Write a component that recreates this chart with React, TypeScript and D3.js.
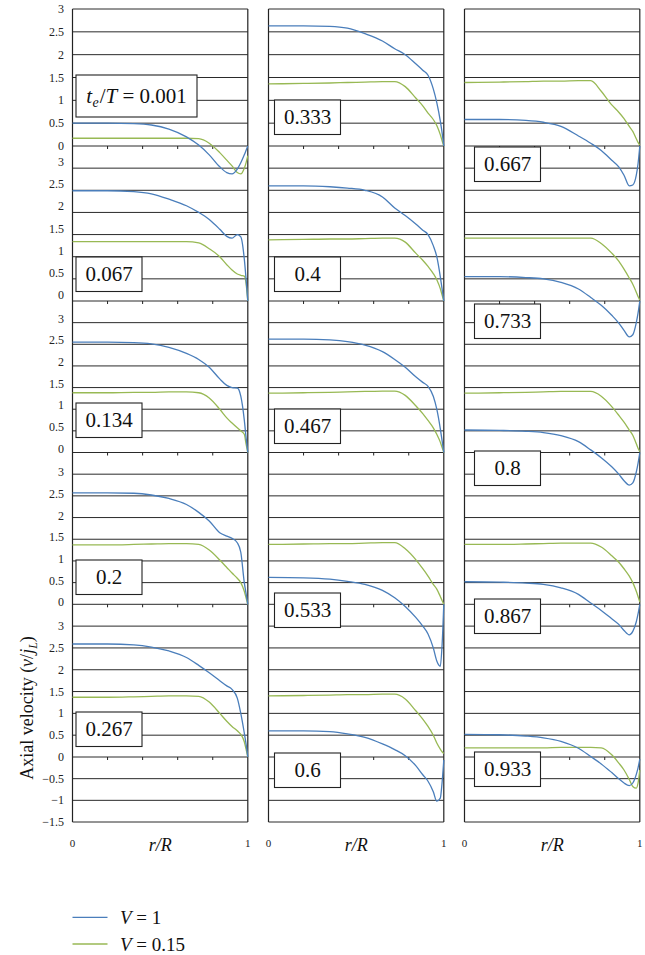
import React from 'react';
import * as d3 from 'd3';

// radial positions r/R shared by every curve
const R = [0, 0.2, 0.35, 0.45, 0.55, 0.65, 0.72, 0.78, 0.84, 0.88, 0.91, 0.94, 0.96, 0.98, 0.99, 1];

const panelLabels = ['0.001', '0.067', '0.134', '0.2', '0.267', '0.333', '0.4', '0.467', '0.533', '0.6', '0.667', '0.733', '0.8', '0.867', '0.933'];

// V = 1 (blue)
const blueV1 = [
  [0.5, 0.5, 0.49, 0.46, 0.37, 0.2, 0.02, -0.2, -0.47, -0.6, -0.63, -0.52, -0.38, -0.2, -0.1, 0],
  [2.49, 2.49, 2.47, 2.42, 2.3, 2.15, 2.0, 1.84, 1.62, 1.46, 1.42, 1.5, 1.45, 0.95, 0.5, 0],
  [2.55, 2.55, 2.54, 2.51, 2.43, 2.29, 2.15, 1.97, 1.7, 1.55, 1.5, 1.49, 1.3, 0.75, 0.35, 0],
  [2.57, 2.57, 2.56, 2.52, 2.44, 2.3, 2.12, 1.92, 1.65, 1.57, 1.52, 1.42, 1.2, 0.5, 0.25, 0],
  [2.59, 2.59, 2.57, 2.52, 2.43, 2.28, 2.1, 1.93, 1.75, 1.63, 1.55, 1.35, 1.0, 0.55, 0.3, 0],
  [2.63, 2.63, 2.62, 2.58, 2.46, 2.3, 2.13, 2.0, 1.8, 1.66, 1.55, 1.25, 0.95, 0.55, 0.3, 0],
  [2.6, 2.6, 2.58, 2.55, 2.5, 2.35, 2.1, 1.93, 1.74, 1.6, 1.5, 1.25, 1.0, 0.55, 0.28, 0],
  [2.62, 2.62, 2.6, 2.56, 2.48, 2.33, 2.15, 1.97, 1.75, 1.62, 1.53, 1.3, 1.0, 0.55, 0.28, 0],
  [0.62, 0.61, 0.58, 0.53, 0.46, 0.32, 0.15, -0.05, -0.3, -0.5, -0.68, -1.0, -1.3, -1.42, -0.95, 0],
  [0.6, 0.6, 0.58, 0.53, 0.45, 0.3, 0.17, 0.03, -0.2, -0.41, -0.56, -0.8, -1.02, -0.95, -0.6, -0.07],
  [0.58, 0.58, 0.56, 0.52, 0.43, 0.22, 0.06, -0.1, -0.32, -0.47, -0.66, -0.9, -0.88, -0.66, -0.4, 0],
  [0.55, 0.55, 0.53, 0.5, 0.42, 0.27, 0.08, -0.1, -0.33, -0.51, -0.68, -0.83, -0.78, -0.5, -0.28, 0],
  [0.52, 0.51, 0.49, 0.46, 0.39, 0.25, 0.06, -0.12, -0.33, -0.5, -0.65, -0.75, -0.7, -0.45, -0.25, 0],
  [0.52, 0.51, 0.49, 0.46, 0.38, 0.23, 0.03, -0.14, -0.33, -0.46, -0.6, -0.7, -0.62, -0.4, -0.22, 0],
  [0.52, 0.51, 0.48, 0.44, 0.36, 0.2, 0.01, -0.16, -0.36, -0.5, -0.6, -0.66, -0.6, -0.4, -0.25, -0.05],
];

// V = 0.15 (green)
const greenV015 = [
  [0.17, 0.17, 0.17, 0.17, 0.17, 0.17, 0.16, 0.06, -0.15, -0.32, -0.45, -0.6, -0.63, -0.5, -0.38, -0.22],
  [1.34, 1.34, 1.34, 1.34, 1.34, 1.34, 1.31, 1.18, 1.0, 0.82, 0.7, 0.61, 0.58, 0.56, 0.4, 0],
  [1.38, 1.38, 1.39, 1.39, 1.4, 1.4, 1.38, 1.26, 1.0, 0.8, 0.68, 0.57, 0.5, 0.42, 0.2, 0],
  [1.37, 1.37, 1.38, 1.39, 1.4, 1.4, 1.38, 1.25, 1.02, 0.85, 0.72, 0.6, 0.5, 0.3, 0.15, 0],
  [1.37, 1.37, 1.38, 1.39, 1.4, 1.4, 1.39, 1.26, 1.0, 0.82, 0.7, 0.6, 0.52, 0.35, 0.18, 0],
  [1.36, 1.37, 1.38, 1.39, 1.4, 1.41, 1.41, 1.3, 1.05, 0.88, 0.72, 0.58, 0.45, 0.25, 0.12, 0],
  [1.38, 1.39, 1.4, 1.4, 1.41, 1.42, 1.42, 1.33, 1.08, 0.92, 0.78, 0.62, 0.48, 0.28, 0.14, 0],
  [1.37, 1.38, 1.39, 1.4, 1.41, 1.42, 1.42, 1.32, 1.08, 0.9, 0.74, 0.57, 0.42, 0.24, 0.12, 0],
  [1.38, 1.39, 1.4, 1.4, 1.41, 1.42, 1.42, 1.28, 1.03, 0.82, 0.65, 0.46, 0.35, 0.18, 0.09, 0],
  [1.4, 1.41, 1.42, 1.43, 1.43, 1.44, 1.44, 1.33, 1.06, 0.87, 0.7, 0.5, 0.32, 0.18, 0.12, 0.08],
  [1.39, 1.4, 1.41, 1.42, 1.42, 1.43, 1.43, 1.2, 0.9, 0.74, 0.6, 0.43, 0.32, 0.16, 0.08, 0.02],
  [1.42, 1.42, 1.42, 1.42, 1.42, 1.42, 1.42, 1.3, 1.08, 0.9, 0.72, 0.52, 0.38, 0.2, 0.1, 0.02],
  [1.37, 1.38, 1.39, 1.4, 1.41, 1.41, 1.41, 1.3, 1.06, 0.86, 0.7, 0.52, 0.4, 0.2, 0.1, 0.02],
  [1.38, 1.38, 1.39, 1.4, 1.41, 1.41, 1.41, 1.32, 1.12, 0.97, 0.82, 0.65, 0.5, 0.3, 0.18, 0.05],
  [0.21, 0.21, 0.21, 0.21, 0.22, 0.22, 0.22, 0.21, 0.05, -0.14, -0.3, -0.52, -0.68, -0.72, -0.6, -0.3],
];

const yTickValues = [3, 2.5, 2, 1.5, 1, 0.5, 0];
const yTickValuesLast = [3, 2.5, 2, 1.5, 1, 0.5, 0, -0.5, -1, -1.5];
const xTickValues = [0.2, 0.4, 0.6, 0.8];
const legendLabels = ['1', '0.15'];

// ---------- layout / style ----------
const W = 645;
const H = 955;
const BLUE = '#4a7ebb';
const GREEN = '#98b954';
const SERIF = "'Liberation Serif', 'Times New Roman', 'DejaVu Serif', serif";
const FONT = { fontFamily: SERIF };
const colLeft = [72.5, 268.5, 464.5];
const colWidth = 175.3;
const PANEL_SPAN = 3.5;
const STACK_END = 18.5;
// stacked unit u (0 = top value 3 of first panel) -> pixel
const stackY = d3.scaleLinear()
  .domain([0, 3, 6.5, 10, 13.5, 17, 18.5])
  .range([9, 146, 301, 452.5, 604.3, 757, 822]);
const tickLabelShift = [0, -6, -4, -2, 0];
const boxX = [76, 274.5, 474.5];
const boxTop = [75, 257, 403, 560, 712, 100, 257, 409, 593, 753, 147, 304, 451, 599, 752];

const yOf = (row: number, v: number) => stackY(row * PANEL_SPAN + 3 - v);

export default function App() {
  const gridUnits = d3.range(0, STACK_END + 0.01, 0.5);
  return (
    <svg width={W} height={H} viewBox={`0 0 ${W} ${H}`}
      style={{ position: 'absolute', left: 0, top: 0, background: '#fff', fontFamily: SERIF }}>
      <rect x={0} y={0} width={W} height={H} fill="#fff" />
      {[0, 1, 2].map((col) => {
        const x = d3.scaleLinear().domain([0, 1]).range([colLeft[col], colLeft[col] + colWidth]);
        return (
          <g key={col}>
            {gridUnits.map((gu, i) => (
              <line key={i} x1={x(0)} x2={x(1)} y1={stackY(gu)} y2={stackY(gu)}
                stroke="#2a2a2a" strokeWidth={1} />
            ))}
            {d3.range(5).map((row) => (
              <g key={row}>
                {xTickValues.map((t) => (
                  <line key={t} x1={x(t)} x2={x(t)} y1={yOf(row, 0)} y2={yOf(row, 0) + 3}
                    stroke="#222" strokeWidth={1} />
                ))}
              </g>
            ))}
            <line x1={x(0)} x2={x(0)} y1={stackY(0)} y2={stackY(STACK_END)} stroke="#222" strokeWidth={1.2} />
            <line x1={x(1)} x2={x(1)} y1={stackY(0)} y2={stackY(STACK_END)} stroke="#222" strokeWidth={1.2} />
            <text x={x(0)} y={847} fontSize={11} textAnchor="middle" fill="#222" style={FONT}>0</text>
            <text x={x(1)} y={847} fontSize={11} textAnchor="middle" fill="#222" style={FONT}>1</text>
            <text x={x(0.5)} y={851} fontSize={18} textAnchor="middle" fill="#111" fontStyle="italic" style={FONT}>r/R</text>
          </g>
        );
      })}

      {panelLabels.map((lab, i) => {
        const col = Math.floor(i / 5);
        const row = i % 5;
        const x = d3.scaleLinear().domain([0, 1]).range([colLeft[col], colLeft[col] + colWidth]);
        const line = d3.line<number>()
          .x((_, k) => x(R[k]))
          .y((v) => yOf(row, v))
          .curve(d3.curveMonotoneX);
        return (
          <g key={lab}>
            <path d={line(greenV015[i]) || ''} fill="none" stroke={GREEN} strokeWidth={1.3} />
            <path d={line(blueV1[i]) || ''} fill="none" stroke={BLUE} strokeWidth={1.3} />
          </g>
        );
      })}

      {panelLabels.map((lab, i) => {
        const col = Math.floor(i / 5);
        const first = i === 0;
        const w = first ? 121 : 66;
        const h = first ? 42 : 34.5;
        const bx = boxX[col];
        const by = boxTop[i];
        return (
          <g key={'b' + lab}>
            <rect x={bx} y={by} width={w} height={h} fill="#fff" stroke="#222" strokeWidth={1.1} />
            {first ? (
              <text x={bx + w / 2} y={by + h / 2 + 7} fontSize={21} textAnchor="middle" fill="#111" style={FONT}>
                <tspan fontStyle="italic">t</tspan>
                <tspan fontStyle="italic" fontSize={14} dy={4} dx={0.5}>e</tspan>
                <tspan dy={-4} dx={1}>/</tspan>
                <tspan fontStyle="italic">T</tspan>
                <tspan>{' = ' + lab}</tspan>
              </text>
            ) : (
              <text x={bx + w / 2} y={by + h / 2 + 7} fontSize={21} textAnchor="middle" fill="#111" style={FONT}>{lab}</text>
            )}
          </g>
        );
      })}

      {d3.range(5).map((row) => (
        <g key={'yt' + row}>
          {(row === 4 ? yTickValuesLast : yTickValues).map((v) => (
            <text key={v} x={64} y={yOf(row, v) + tickLabelShift[row] + 4} fontSize={12}
              textAnchor="end" fill="#222" style={FONT}>
              {v < 0 ? '\u2212' + Math.abs(v) : String(v)}
            </text>
          ))}
        </g>
      ))}

      <text transform={`translate(33, 708) rotate(-90)`} fontSize={18} textAnchor="middle" fill="#111" style={FONT}>
        Axial velocity (<tspan fontStyle="italic">v</tspan>/<tspan fontStyle="italic">j</tspan>
        <tspan fontStyle="italic" fontSize={12} dy={4}>L</tspan><tspan dy={-4}>)</tspan>
      </text>

      {legendLabels.map((lab, i) => {
        const ly = 917.3 + i * 26.7;
        return (
          <g key={'lg' + lab}>
            <line x1={72.5} x2={107.5} y1={ly} y2={ly} stroke={i === 0 ? BLUE : GREEN} strokeWidth={1.3} />
            <text x={120} y={ly + 6.5} fontSize={19} fill="#111" style={FONT}>
              <tspan fontStyle="italic">V</tspan>
              <tspan>{' = ' + lab}</tspan>
            </text>
          </g>
        );
      })}
    </svg>
  );
}
